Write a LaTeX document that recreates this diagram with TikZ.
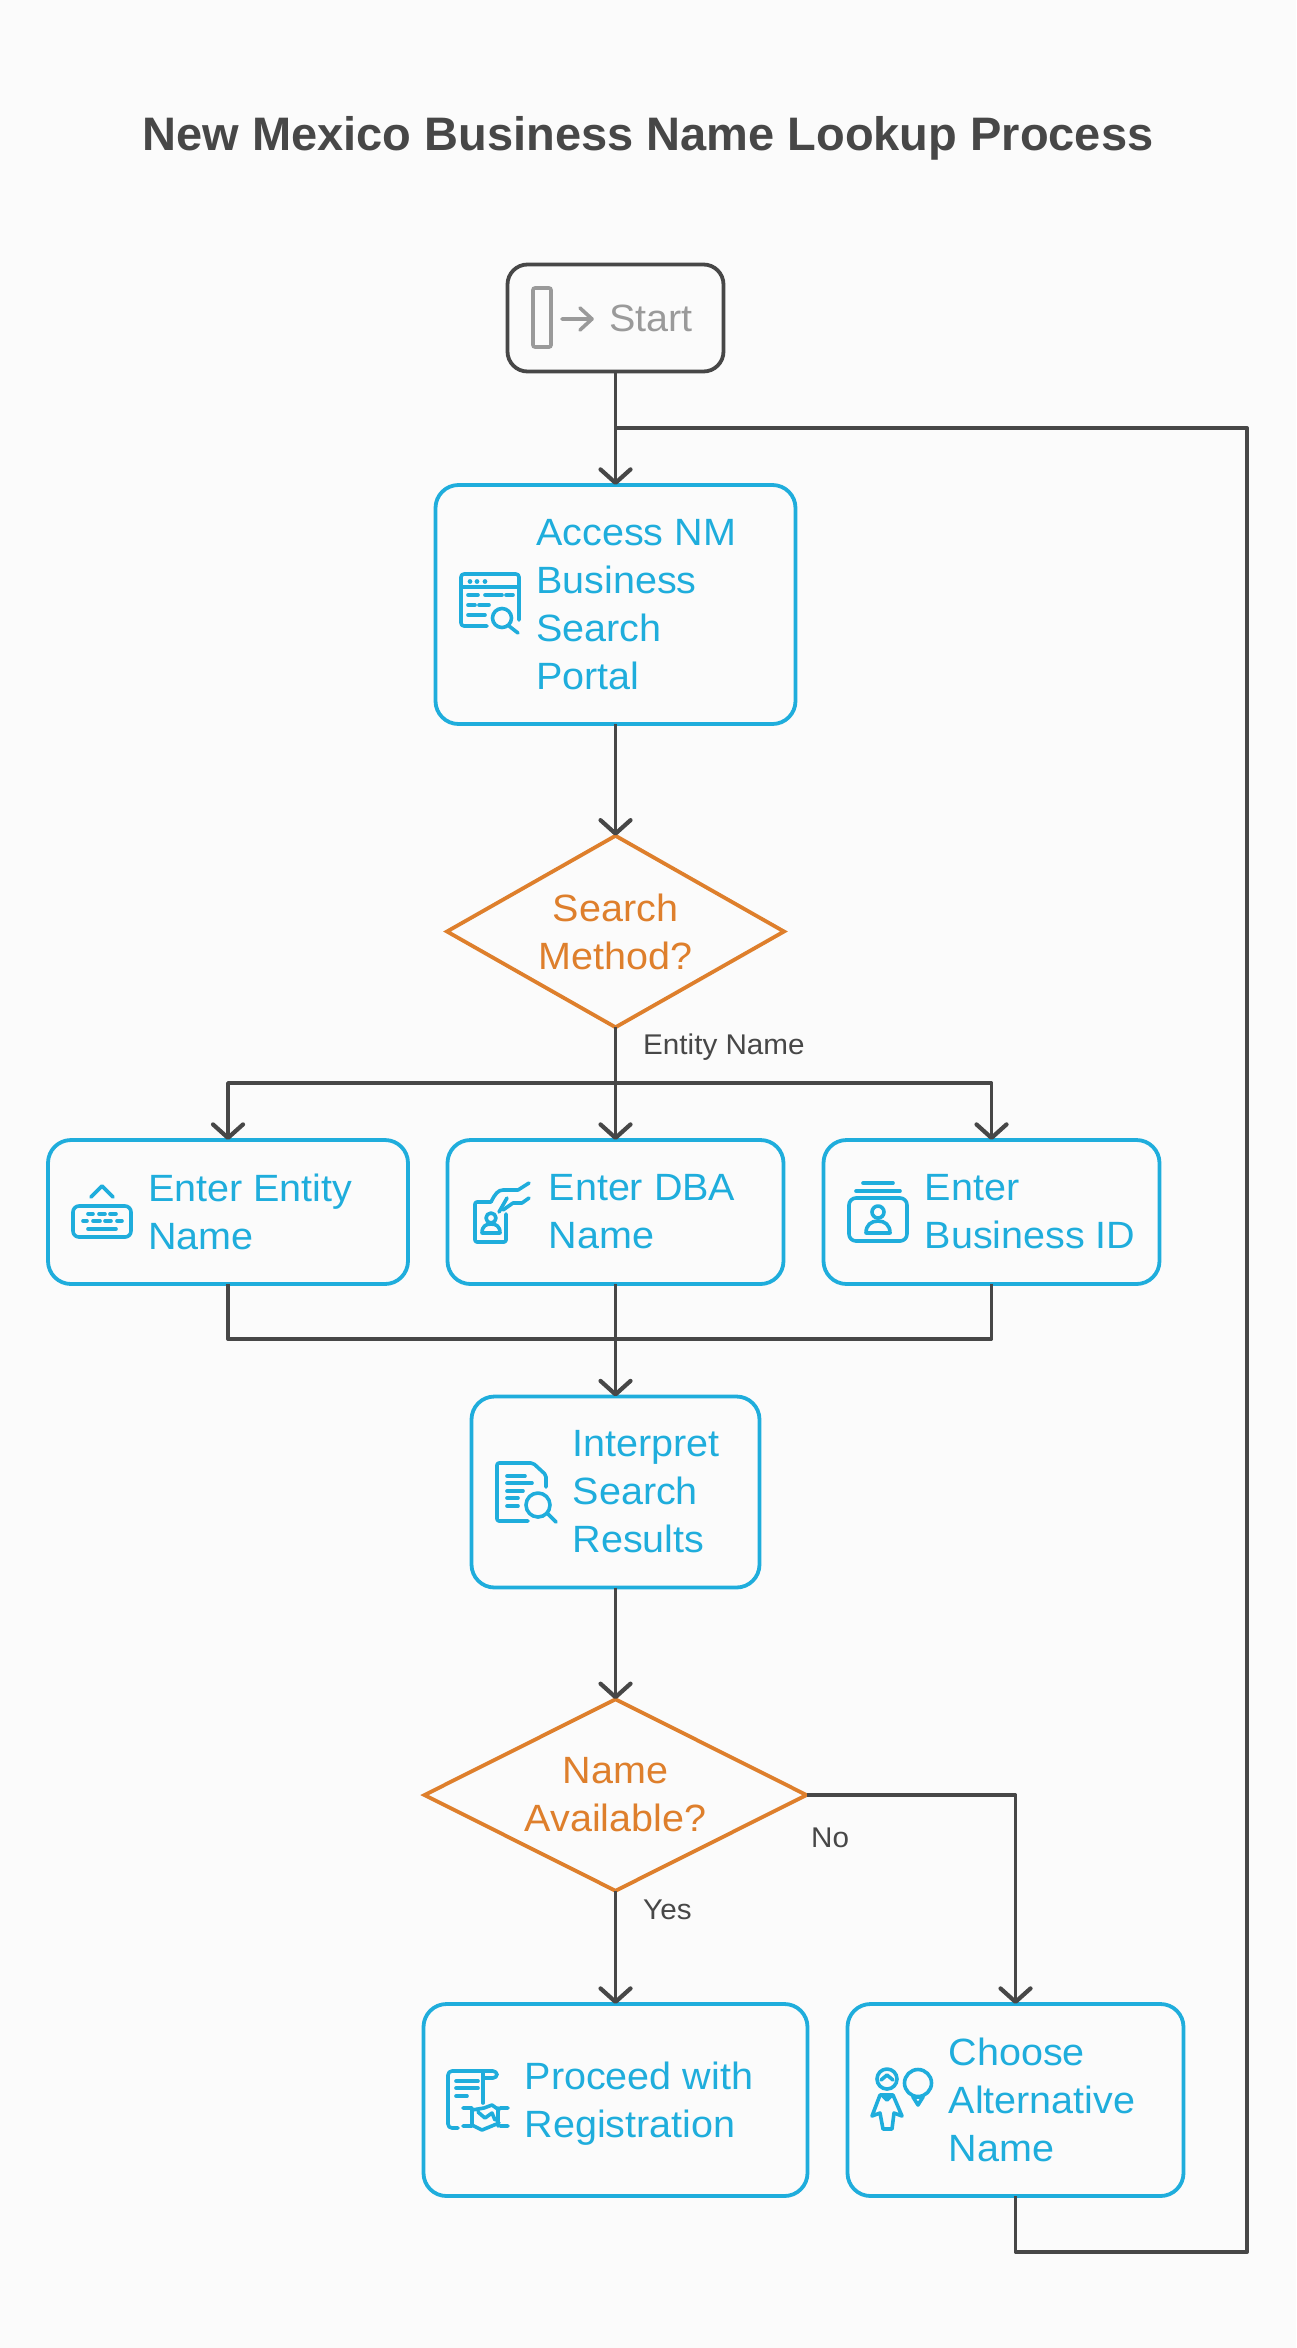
\documentclass[tikz,border=0pt]{standalone}
\usepackage{fontspec}
\setmainfont[FakeStretch=1.04]{Liberation Sans}
\newfontfamily\titlefont{Liberation Sans}
\usetikzlibrary{
    arrows.meta,
    shapes.geometric,
    calc
}
\definecolor{stepblue}{HTML}{1FADDC}
\definecolor{askorange}{HTML}{DE7F2C}
\definecolor{wiredark}{HTML}{474747}
\definecolor{startgrey}{HTML}{9A9A9A}
\definecolor{pagebg}{HTML}{FBFBFB}
\tikzset{
    stepbox/.style={draw=stepblue, line width=3.8pt, rounded corners=23pt, outer sep=0pt, inner sep=0pt},
    startbox/.style={stepbox, draw=wiredark, rounded corners=20pt},
    steptext/.style={anchor=west, align=left, inner sep=0pt, text=stepblue, font=\fontsize{38}{48}\selectfont},
    askbox/.style={draw=askorange, line width=3.8pt, diamond, aspect=1.99, align=center, inner sep=0pt, outer sep=0pt,
        text=askorange, font=\fontsize{38}{48}\selectfont},
    wirelabel/.style={inner sep=0pt, text=wiredark, font=\fontsize{28.5}{34}\selectfont},
    icon/.style={draw=stepblue, line width=3.6pt, line cap=round, line join=round},
    wire/.style={draw=wiredark, line width=3.8pt, line join=round}
}
\begin{document}
\begin{tikzpicture}[x=1pt, y=-1pt, >={Straight Barb[length=13.5pt,width=30pt,round,line width=4.2pt]}]
    \fill[pagebg] (0,0) rectangle (1296,2348);
    \useasboundingbox (0,0) rectangle (1296,2348);

    \node[text=wiredark, font=\titlefont\bfseries\fontsize{47}{60}\selectfont] (title) at (648,138) {New Mexico Business Name Lookup Process};

    \node[startbox, minimum width=216pt, minimum height=107pt] (start) at (615.5,318) {};
    \node[stepbox, minimum width=360pt, minimum height=239pt] (portal) at (615.5,604.5) {};
    \node[askbox, minimum width=337pt, minimum height=191.5pt] (method) at (615.5,931.5) {Search\\Method?};
    \node[stepbox, minimum width=360pt, minimum height=144pt] (entity) at (228,1212) {};
    \node[stepbox, minimum width=336pt, minimum height=144pt] (dba) at (615.5,1212) {};
    \node[stepbox, minimum width=336pt, minimum height=144pt] (busid) at (991.5,1212) {};
    \node[stepbox, minimum width=288pt, minimum height=191pt] (interp) at (615.5,1492) {};
    \node[askbox, minimum width=382pt, minimum height=191.5pt] (avail) at (615.5,1795) {Name\\Available?};
    \node[stepbox, minimum width=384pt, minimum height=192pt] (proceed) at (615.5,2100) {};
    \node[stepbox, minimum width=336pt, minimum height=192pt] (altname) at (1015.5,2100) {};

    \node[inner sep=0pt, text=startgrey, font=\fontsize{38}{48}\selectfont] (startl) at (651,318) {Start};
    \node[steptext] (portall) at (536,604.5) {Access NM\\Business\\Search\\Portal};
    \node[steptext] (entityl) at (148,1212) {Enter Entity\\Name};
    \node[steptext] (dbal) at (548.5,1212) {Enter DBA\\Name};
    \node[steptext] (busidl) at (924.5,1212) {Enter\\Business ID};
    \node[steptext] (interpl) at (572.5,1492) {Interpret\\Search\\Results};
    \node[steptext] (proceedl) at (524.5,2104) {Proceed with\\Registration};
    \node[steptext] (altnamel) at (948.5,2100) {Choose\\Alternative\\Name};

    \node[wirelabel, anchor=west] (entl) at (643,1047) {Entity Name};
    \node[wirelabel, anchor=west] (nol) at (811,1838) {No};
    \node[wirelabel, anchor=west] (yesl) at (643,1910) {Yes};

    \coordinate (split) at (615.5,1083);
    \coordinate (merge) at (615.5,1339);
    \coordinate (backa) at (1247,2252);
    \coordinate (backb) at (1247,428);
    \coordinate (backc) at (615.5,428);

    \draw[wire]
    (start) edge[->] (portal)
    (portal) edge[->] (method)
    (method) edge[->] (dba)
    (dba) edge[->] (interp)
    (interp) edge[->] (avail)
    (avail) edge[->] (proceed);
    \draw[wire, ->] (split) -| (entity);
    \draw[wire, ->] (split) -| (busid);
    \draw[wire] (entity) |- (merge);
    \draw[wire] (busid) |- (merge);
    \draw[wire, ->] (avail.east) -| (altname);
    \draw[wire] (altname) |- (backa) -- (backb) -- (backc);

    \draw[draw=startgrey, line width=3.6pt, rounded corners=2pt] (533,288) rectangle (551,347);
    \draw[draw=startgrey, line width=3.6pt, line cap=round, line join=round] (562,319) -- (592,319) (580,308) -- (592,319) -- (580,330);

    \draw[icon, rounded corners=3pt] (487,626) -- (461,626) -- (461,574) -- (519,574) -- (519,620);
    \draw[icon] (461,587) -- (519,587);
    \foreach \dotx in {470,477,485} \fill[stepblue] (\dotx,581.5) circle (2.4pt);
    \draw[icon] (468,595) -- (478,595) (485,595) -- (502,595) (506,595) -- (513,595)
        (468,605) -- (475,605) (479,605) -- (489,605) (468,615) -- (485,615);
    \draw[icon] (502,618) circle (9.5pt) (509,626) -- (518,633);

    \draw[icon, rounded corners=6pt] (73,1206) rectangle (131,1237);
    \draw[icon] (91,1197) -- (102,1186) -- (113,1197);
    \draw[icon] (88,1214) -- (93,1214) (99,1214) -- (105,1214) (110,1214) -- (116,1214)
        (83,1221) -- (87,1221) (93,1221) -- (100,1221) (105,1221) -- (111,1221) (117,1221) -- (122,1221)
        (88,1229) -- (116,1229);

    \draw[icon, rounded corners=2pt] (491,1202) -- (475,1202) -- (475,1242) -- (506,1242) -- (506,1214);
    \draw[icon] (491,1218) circle (5pt);
    \draw[icon] (482,1233) .. controls (482,1226) and (486,1224) .. (491,1224) .. controls (496,1224) and (500,1226) .. (500,1233) -- cycle;
    \draw[icon] (491,1202) .. controls (495,1194) and (498,1190) .. (503,1190) -- (518,1190) -- (529,1183);
    \draw[icon] (499,1212) -- (507,1198);
    \draw[icon] (503,1210) -- (513,1203) -- (522,1203) -- (529,1198);

    \draw[icon, rounded corners=7pt] (849,1198) rectangle (907,1241);
    \draw[icon] (863,1183) -- (893,1183) (856,1191) -- (900,1191);
    \draw[icon] (878,1212) circle (6pt);
    \draw[icon] (866,1233) .. controls (866,1225) and (871,1221) .. (878,1221) .. controls (885,1221) and (890,1225) .. (890,1233) -- cycle;

    \draw[icon, rounded corners=2pt] (528,1521) -- (497,1521) -- (497,1463) -- (533,1463) -- (546,1475) -- (546,1487);
    \draw[icon] (507,1476) -- (525,1476) (507,1483) -- (532,1483) (507,1491) -- (523,1491) (507,1498) -- (518,1498) (507,1506) -- (518,1506);
    \draw[icon] (538,1505) circle (12pt) (547,1513) -- (556,1522);

    \draw[icon, rounded corners=4pt] (458,2128) -- (448,2128) -- (448,2071) -- (497,2071) -- (497,2078) -- (483,2078);
    \draw[icon] (483,2072) -- (483,2103);
    \draw[icon] (456,2081) -- (478,2081) (456,2088) -- (478,2088) (456,2096) -- (467,2096);
    \draw[icon] (463,2108) -- (472,2108) (463,2126) -- (472,2126) (500,2108) -- (508,2108) (500,2126) -- (508,2126)
        (472,2108) -- (472,2126) (498,2108) -- (498,2126)
        (472,2110) -- (484,2108) -- (492,2105) -- (499,2110)
        (472,2125) -- (482,2130) -- (499,2123)
        (478,2112) -- (485,2118) -- (492,2113) -- (495,2120);

    \draw[icon] (887,2079) circle (10pt);
    \draw[icon] (881,2080) -- (887,2075) -- (893,2080);
    \draw[icon] (880,2095) -- (893,2095) -- (902,2116) -- (894,2113) -- (892,2129) -- (883,2129) -- (880,2113) -- (872,2116) -- cycle;
    \draw[icon] (882,2095) -- (887,2100) -- (892,2095);
    \draw[icon] (918,2083) circle (13.5pt);
    \draw[icon] (913,2097) -- (923,2097) -- (918,2105) -- cycle;
\end{tikzpicture}
\end{document}
